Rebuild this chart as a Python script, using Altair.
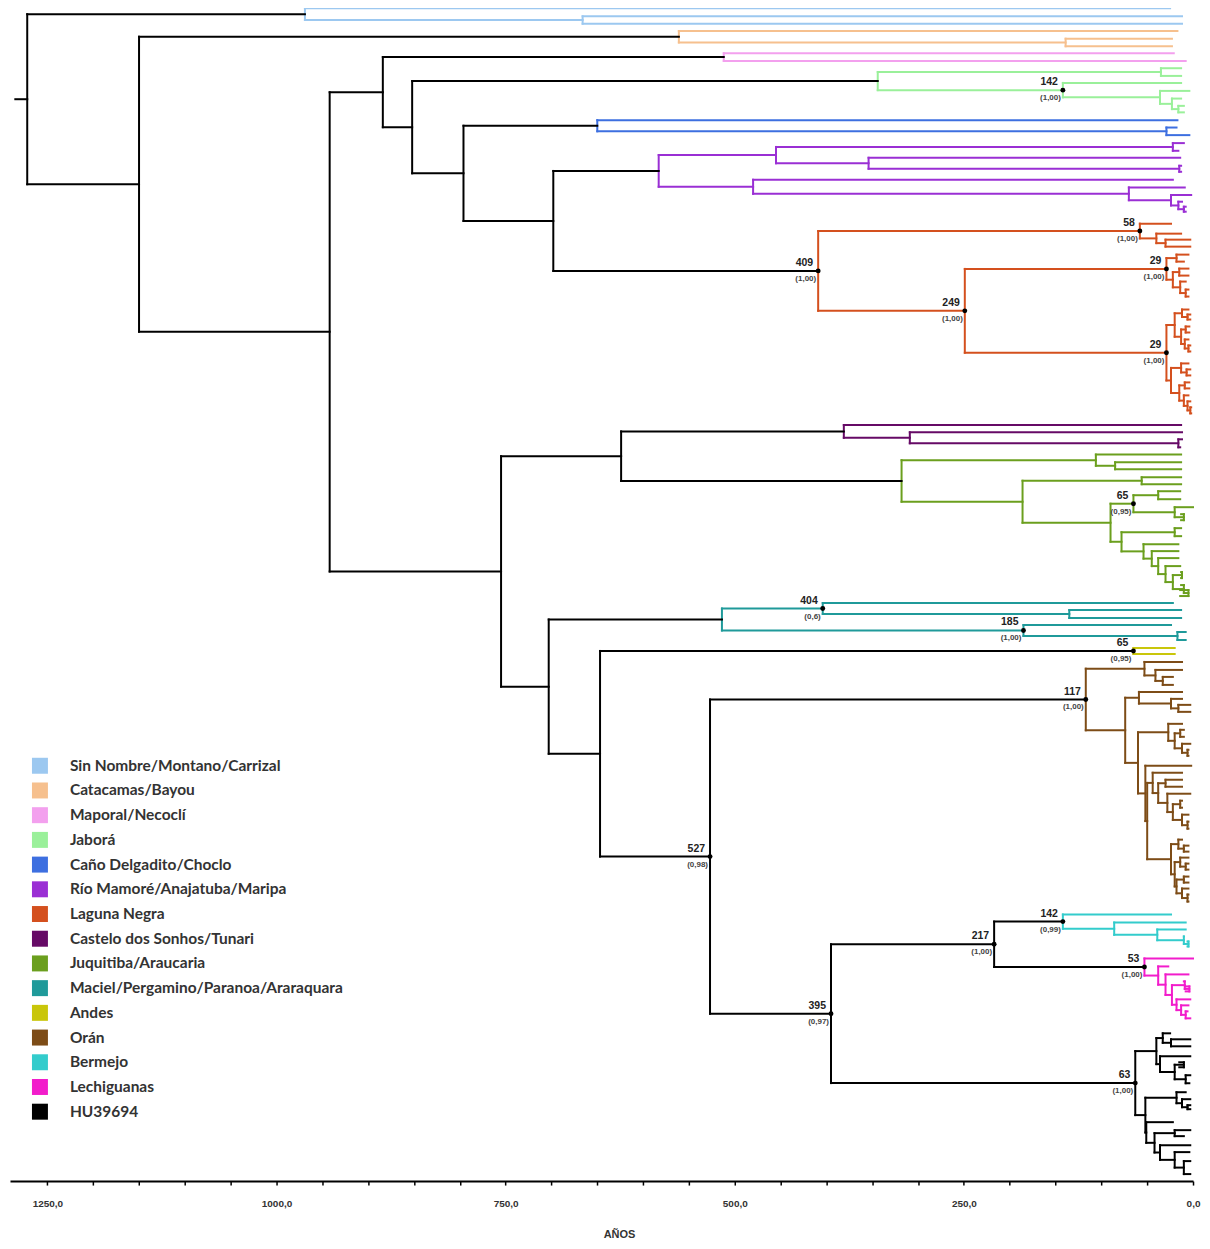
import altair as alt
import pandas as pd

# ---------------- legend groups and colours ----------------
GROUPS = ["Sin Nombre/Montano/Carrizal", "Catacamas/Bayou", "Maporal/Necoclí", "Jaborá",
          "Caño Delgadito/Choclo", "Río Mamoré/Anajatuba/Maripa", "Laguna Negra",
          "Castelo dos Sonhos/Tunari", "Juquitiba/Araucaria", "Maciel/Pergamino/Paranoa/Araraquara",
          "Andes", "Orán", "Bermejo", "Lechiguanas", "HU39694"]
COLORS = ["#9cc8f0", "#f6c08e", "#f3a0ee", "#9af09a", "#3d6fe0", "#9a2fd4", "#d4501e",
          "#660a66", "#6b9f1e", "#1f9a9a", "#c9c60a", "#7d4c17", "#33cccc", "#f21ccb", "#000000"]

TICKS = list(range(0, 1300, 50))          # axis ticks (years), labelled every 250
X_MAX = 1290.8                             # left end of the time axis (years)
ROOT_STUB = 1285                           # start of the root stub (years)


def T(y, end=0):
    """tip: row position and age where the tip ends"""
    return {"y": y, "end": end}


def N(age, *kids, post=None, grp=None):
    """internal node: age (years before present), children, posterior, clade"""
    return {"age": age, "kids": list(kids), "post": post, "grp": grp}


# ---------------- clades ----------------
sin_nombre = N(969, T(7.3, 25), N(666, T(15.3, 12), T(22.7, 12)), grp=GROUPS[0])
catacamas = N(561, T(30, 17), N(139, T(37.7, 23), T(45.3, 23)), grp=GROUPS[1])
maporal = N(512, T(52.3, 21), T(60, 8), grp=GROUPS[2])
jabora = N(344,
           N(35, T(67.3, 13), T(75, 13)),
           N(142, T(82, 13), N(36, T(90, 4), N(23, T(97.7, 13), N(16, T(105, 10), T(111.5, 10)))),
             post="1,00"),
           grp=GROUPS[3])
cano = N(650, T(119.3, 17), N(29, T(126.7, 18), T(134.3, 4)), grp=GROUPS[4])
rio = N(583,
        N(455, N(22, T(142.3, 10), T(150, 16)), N(354, T(157, 14), N(15, T(165, 13), T(171, 13)))),
        N(480, T(179, 22), N(70, T(186.7, 9), N(24, T(194.3, 2), N(16, T(201, 12), N(10, T(206, 8), T(211, 8)))))),
        grp=GROUPS[5])
ln_u = N(20, N(12, T(309, 5), N(6, T(314, 3), T(319, 3))),
         N(13, N(8, T(326, 4), T(332, 4)), N(9, T(339, 5), N(5, T(345, 3), T(351, 3)))))
ln_l = N(24, N(13, T(363, 5), N(7, T(369, 3), T(375, 3))),
         N(15, N(9, T(382, 4), T(388, 4)), N(10, T(395, 5), N(6, T(401, 3), N(3, T(407, 2), T(413, 2))))))
laguna = N(409,
           N(58, T(223, 24), N(40, T(233, 13), N(30, T(239, 3), T(246, 3))), post="1,00"),
           N(249,
             N(29, N(18, T(254, 5), T(261, 10)),
               N(22, N(15, T(268, 5), T(275, 5)), N(14, T(281, 8), N(8, T(289, 5), T(296, 5)))), post="1,00"),
             N(29, ln_u, ln_l, post="1,00"),
             post="1,00"),
           post="1,00", grp=GROUPS[6])
castelo = N(381, T(424.7, 13), N(309, T(432, 12), N(16, T(439, 12), T(447, 14))), grp=GROUPS[7])
juq_q = N(78, N(20, T(528, 13), T(536, 13)),
          N(54, T(544, 16), N(45, T(551, 16), N(38, T(558, 16), N(30, T(566, 14),
            N(22, N(12, T(572, 13), T(578, 13)), N(10, T(585, 13), N(5, T(590, 14), T(596, 14)))))))))
juquitiba = N(318,
              N(106, T(454.3, 13), N(85, T(462, 13), T(469, 13))),
              N(186, N(56, T(477, 13), T(484, 13)),
                N(90, N(65, N(38, T(491, 14), T(499, 14)), N(20, T(507, 0), N(10, T(514, 13), T(520, 13))),
                        post="0,95"),
                  juq_q)),
              grp=GROUPS[8])
maciel = N(514,
           N(404, T(603, 22), N(135, T(610, 13), T(618, 13)), post="0,6"),
           N(185, T(625, 24), N(17, T(632, 8), T(640, 8)), post="1,00"),
           grp=GROUPS[9])
andes = N(65, T(648, 20), T(654, 20), post="0,95", grp=GROUPS[10])
or_a = N(53, T(662, 12), N(41, T(670, 12), N(33, T(677, 22), T(685, 22))))
or_e = N(59, T(692, 12), N(24, T(699, 12), N(16, T(705, 3), T(712, 3))))
or_i = N(27, T(724, 12), N(20, N(14, T(730, 10), T(737, 10)), N(12, T(744, 3), N(6, T(750, 5), T(756, 5)))))
or_m = N(44, T(773, 12), N(38, N(30, T(780, 12), T(787, 12)),
                           N(28, T(794, 3), N(22, N(14, T(801, 12), T(808, 12)),
                                             N(12, T(815, 5), N(6, T(822, 5), T(829, 5)))))))
or_n = N(24, N(16, T(840, 12), N(10, T(846, 5), T(852, 5))),
         N(20, N(14, T(858, 5), N(8, T(864, 5), T(870, 5))),
           N(18, N(10, T(877, 5), T(883, 5)), N(12, T(889, 5), N(6, T(895, 5), T(902, 5))))))
or_k = N(52, T(766, 2), N(50, or_m, or_n))
oran = N(117, or_a, N(74, or_e, N(60, or_i, or_k)), post="1,00", grp=GROUPS[11])
bermejo = N(142, T(915, 24), N(86, T(923, 8), N(39, T(930, 8), N(10, T(937, 10), N(5, T(942, 6), T(947, 6))))),
            post="0,99", grp=GROUPS[12])
lechi = N(53, T(959, 0), N(38, T(967, 27), N(30, T(975, 5),
          N(23, N(9, T(982, 10), N(4, T(987, 8), T(992, 8))),
            N(18, T(1000, 3), N(13, T(1006, 5), N(8, T(1012, 6), T(1019, 3))))))),
          post="1,00", grp=GROUPS[13])
hu_u = N(40, N(33, T(1034, 25), N(24, T(1040, 3), T(1047, 3))),
         N(36, T(1057, 3), N(20, N(10, T(1063, 15), T(1068, 15)), N(8, T(1076, 3), T(1084, 4)))))
hu_l = N(52, N(18, T(1093, 8), N(12, T(1100, 3), N(6, T(1106, 3), T(1110, 3)))),
         N(51, T(1123, 22), N(42, N(20, T(1131, 3), T(1137, 10)),
                             N(36, T(1146, 3), N(20, T(1153, 4), N(10, T(1162, 3), T(1175, 3)))))))
hu = N(63, hu_u, hu_l, post="1,00", grp=GROUPS[14])

# ---------------- backbone ----------------
n217 = N(217, bermejo, lechi, post="1,00")
n395 = N(395, n217, hu, post="0,97")
n527 = N(527, oran, n395, post="0,98")
n647 = N(647, andes, n527)
n703 = N(703, maciel, n647)
n624 = N(624, castelo, juquitiba)
n755 = N(755, n624, n703)
n698 = N(698, rio, laguna)
n796 = N(796, cano, n698)
n852 = N(852, jabora, n796)
n884 = N(884, maporal, n852)
n942 = N(942, n884, n755)
n1150 = N(1150, catacamas, n942)
root = N(1272, sin_nombre, n1150, grp="bk")

# ---------------- tree -> segments ----------------
segments = []
labelled = []


def walk(node, grp):
    if "y" in node:
        return node["y"], node["end"]
    g = node["grp"] or grp
    ys = []
    for k in node["kids"]:
        ky, ka = walk(k, g)
        segments.append({"x": node["age"], "x2": ka, "y": ky, "y2": ky, "g": g})
        ys.append(ky)
    y = (ys[0] + ys[-1]) / 2
    segments.append({"x": node["age"], "x2": node["age"], "y": ys[0], "y2": ys[-1], "g": g})
    if node["post"]:
        labelled.append({"x": node["age"], "y": y, "lab": str(node["age"]), "post": "(" + node["post"] + ")"})
    return y, node["age"]


ry, ra = walk(root, "bk")
segments.append({"x": ROOT_STUB, "x2": ra, "y": ry, "y2": ry, "g": "bk"})

seg_df = pd.DataFrame(segments)
lab_df = pd.DataFrame(labelled)
leg_df = pd.DataFrame({"grupo": GROUPS, "x": [0] * len(GROUPS), "y": [1182] * len(GROUPS)})

# ---------------- encodings ----------------
xs = alt.Scale(domain=[0, X_MAX], reverse=True, nice=False, zero=False)
ys = alt.Scale(domain=[8, 1182], reverse=True, nice=False, zero=False)
X_AXIS = alt.Axis(
    values=TICKS,
    labelExpr="datum.value % 250 === 0 ? replace(format(datum.value, '.1f'), '.', ',') : ''",
    tickSize=4, tickWidth=1.5, tickColor="black", domainColor="black", domainWidth=2,
    labelFont="Liberation Sans", labelFontWeight="bold", labelFontSize=10, labelColor="#333",
    labelPadding=13, labelOverlap=False, labelFlush=False, grid=False,
    title="AÑOS", titleFont="Liberation Sans", titleFontWeight="bold", titleFontSize=11,
    titleColor="#333", titlePadding=21, titleX=610, titleAlign="center")


def xenc(f):
    return alt.X(f, type="quantitative", scale=xs, axis=X_AXIS, title="AÑOS")


def yenc(f):
    return alt.Y(f, type="quantitative", scale=ys, axis=None)


branches = alt.Chart(seg_df).mark_rule(strokeWidth=2, strokeCap="square").encode(
    x=xenc("x"), x2="x2:Q", y=yenc("y"), y2="y2:Q",
    stroke=alt.Stroke("g:N", scale=alt.Scale(domain=["bk"] + GROUPS, range=["#000000"] + COLORS),
                      legend=None))

dots = alt.Chart(lab_df).mark_circle(size=24, color="black", opacity=1).encode(x=xenc("x"), y=yenc("y"))

ages = alt.Chart(lab_df).mark_text(align="right", baseline="middle", dx=-5, dy=-8, font="Liberation Sans",
                                   fontWeight="bold", fontSize=10.5, color="#222").encode(
    x=xenc("x"), y=yenc("y"), text="lab:N")

posts = alt.Chart(lab_df).mark_text(align="right", baseline="middle", dx=-2, dy=8, font="Liberation Sans",
                                    fontWeight="bold", fontSize=8, color="#444").encode(
    x=xenc("x"), y=yenc("y"), text="post:N")

legend_layer = alt.Chart(leg_df).mark_square(opacity=0, size=10).encode(
    x=xenc("x"), y=yenc("y"),
    fill=alt.Fill("grupo:N", scale=alt.Scale(domain=GROUPS, range=COLORS),
                  legend=alt.Legend(title=None, orient="none", legendX=22, legendY=750,
                                    symbolType="square", symbolSize=256, symbolOpacity=1,
                                    symbolStrokeWidth=0,
                                    labelFont="Lato", labelFontSize=15.5, labelFontWeight="bold",
                                    labelColor="#333", labelLimit=500, labelOffset=22,
                                    rowPadding=7.75, padding=0)))

chart = alt.layer(branches, dots, ages, posts, legend_layer).properties(
    width=1185, height=1174,
    padding={"left": 2, "top": 0, "right": 9, "bottom": 60},
    autosize=alt.AutoSizeParams(type="none"),
    background="white",
).configure_view(stroke=None)

chart.save("out.html", embed_options={"renderer": "svg", "actions": False})
